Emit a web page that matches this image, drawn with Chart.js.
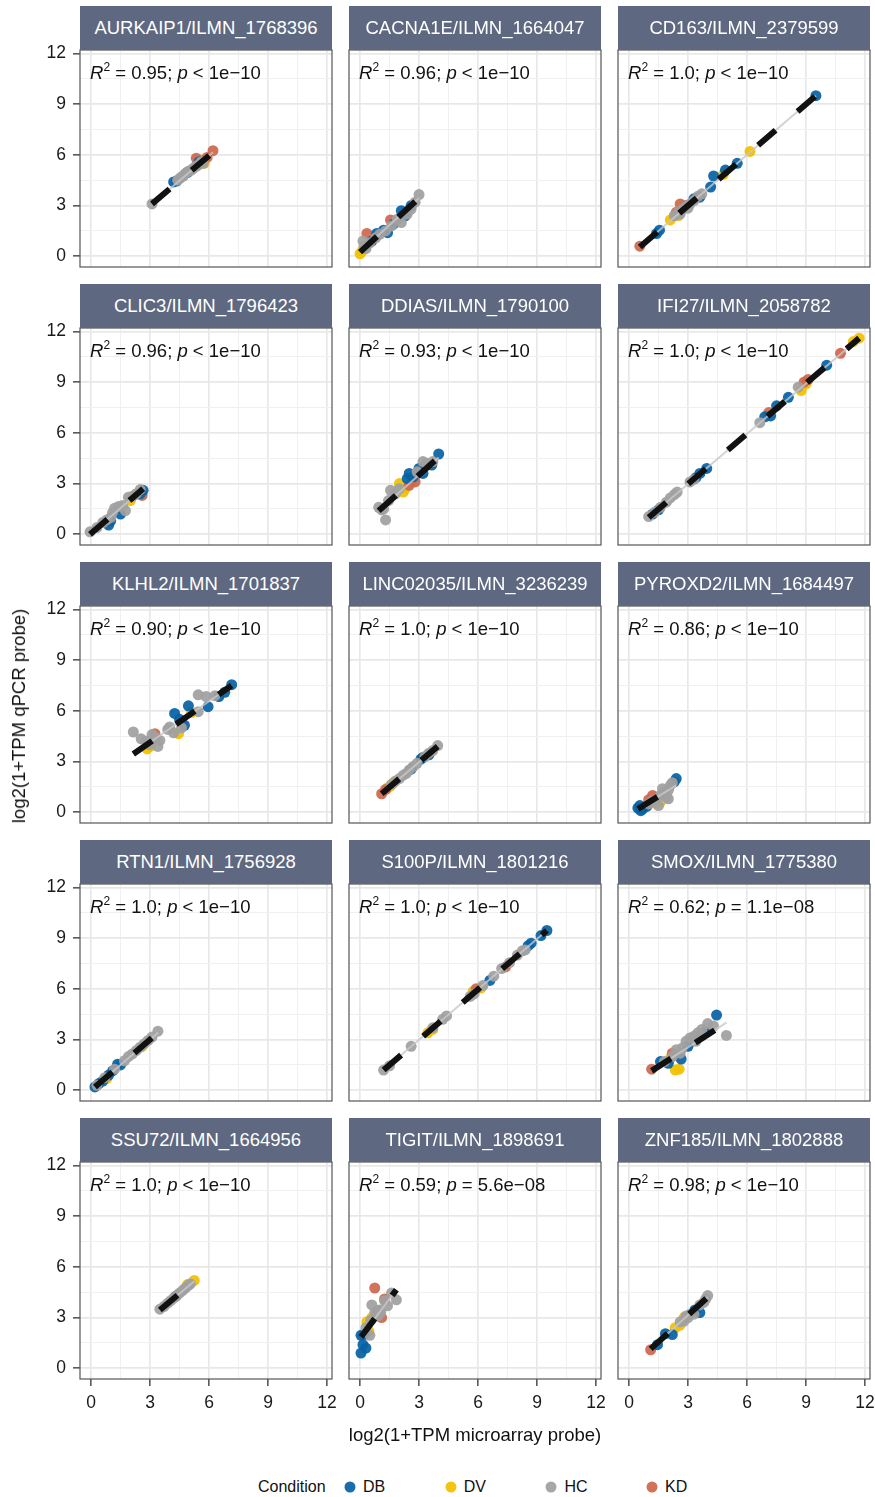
<!DOCTYPE html>
<html>
<head>
<meta charset="utf-8">
<script src="https://cdn.jsdelivr.net/npm/chart.js@4.4.1/dist/chart.umd.min.js"></script>
<style>
  html, body { margin: 0; padding: 0; background: #fff; }
  body { width: 875px; height: 1497px; position: relative; overflow: hidden;
         font-family: "Liberation Sans", Arial, Helvetica, sans-serif; color: #111; }
  canvas { position: absolute; }
  .strip { position: absolute; background: #5e6880; color: #fff; font-size: 18.5px;
           display: flex; align-items: center; justify-content: center; z-index: 2; }
  .ann { position: absolute; font-size: 18.5px; line-height: 16px; white-space: nowrap; z-index: 3; }
  .ann sup { font-size: 12px; vertical-align: 0; position: relative; top: -8px; }
  .title { position: absolute; font-size: 18.5px; white-space: nowrap; transform: translate(-50%, -50%); }
  .legend { position: absolute; font-size: 16px; white-space: nowrap; transform: translateY(-50%); }
  .dot { position: absolute; width: 11px; height: 11px; border-radius: 50%; transform: translate(-50%, -50%); }
</style>
</head>
<body>
<script>
// panel titles and fit statistics, in facet order
const panelTitles = ['AURKAIP1/ILMN_1768396', 'CACNA1E/ILMN_1664047', 'CD163/ILMN_2379599',
    'CLIC3/ILMN_1796423', 'DDIAS/ILMN_1790100', 'IFI27/ILMN_2058782',
    'KLHL2/ILMN_1701837', 'LINC02035/ILMN_3236239', 'PYROXD2/ILMN_1684497',
    'RTN1/ILMN_1756928', 'S100P/ILMN_1801216', 'SMOX/ILMN_1775380',
    'SSU72/ILMN_1664956', 'TIGIT/ILMN_1898691', 'ZNF185/ILMN_1802888'];
const r2Values = ['0.95', '0.96', '1.0', '0.96', '0.93', '1.0', '0.90', '1.0', '0.86', '1.0', '1.0', '0.62', '1.0', '0.59', '0.98'];
const pRelation = ['<', '<', '<', '<', '<', '<', '<', '<', '<', '<', '<', '=', '<', '=', '<'];
const pValues = ['1e−10', '1e−10', '1e−10', '1e−10', '1e−10', '1e−10', '1e−10', '1e−10', '1e−10', '1e−10', '1e−10', '1.1e−08', '1e−10', '5.6e−08', '1e−10'];

// regression line ends [x, y]
const fitFrom = [[3.1, 3.1], [0.0, 0.25], [0.55, 0.55], [-0.05, 0.0], [0.95, 1.4], [1.0, 1.0],
    [2.15, 3.45], [1.1, 1.1], [0.45, 0.2], [0.2, 0.2], [1.2, 1.2], [1.15, 1.15],
    [3.5, 3.45], [0.05, 1.85], [1.1, 1.15]];
const fitTo = [[6.2, 6.15], [3.0, 3.45], [9.5, 9.5], [2.65, 2.7], [4.0, 4.55], [11.7, 11.6],
    [7.15, 7.5], [3.95, 3.9], [2.4, 1.6], [3.4, 3.4], [9.5, 9.45], [4.95, 4.0],
    [5.25, 5.15], [1.85, 4.65], [4.0, 4.2]];

// points: [microarray, qPCR, condition]
const aurkaip1Pts = [[3.1,3.1,'HC'],[4.2,4.4,'DB'],[4.35,4.45,'DB'],[4.4,4.5,'HC'],[4.5,4.6,'HC'],[4.6,4.7,'HC'],
    [4.7,4.75,'HC'],[4.8,4.9,'HC'],[4.9,4.95,'DB'],[4.9,5.0,'HC'],[5.0,5.05,'HC'],[5.1,5.1,'HC'],[5.2,5.2,'HC'],
    [5.3,5.3,'HC'],[5.4,5.35,'HC'],[5.5,5.6,'DB'],[5.5,5.45,'HC'],[5.6,5.7,'DV'],[5.75,5.5,'DV'],[5.7,5.5,'HC'],
    [5.35,5.8,'KD'],[5.9,5.85,'KD'],[6.2,6.25,'KD'],[5.6,5.6,'HC']];
const cacna1ePts = [[0.0,0.15,'DV'],[0.1,0.3,'DV'],[0.3,0.55,'DV'],[0.15,0.9,'HC'],[0.2,0.6,'HC'],[0.3,0.45,'HC'],
    [0.5,0.8,'HC'],[0.6,0.9,'DB'],[0.8,1.1,'HC'],[0.85,1.35,'DB'],[1.0,1.3,'HC'],[0.35,1.35,'KD'],[1.2,1.55,'DB'],
    [1.4,1.4,'DB'],[1.3,1.5,'HC'],[1.6,1.8,'HC'],[1.7,1.9,'DB'],[1.55,2.15,'KD'],[1.9,2.2,'HC'],[2.1,2.0,'HC'],
    [2.1,2.7,'DB'],[2.3,2.4,'DB'],[2.4,2.5,'HC'],[2.6,3.0,'DB'],[2.6,2.8,'HC'],[2.8,3.2,'HC'],[3.0,3.65,'HC']];
const cd163Pts = [[0.55,0.6,'KD'],[1.4,1.35,'DB'],[1.55,1.55,'DB'],[2.1,2.15,'DV'],[2.3,2.4,'HC'],[2.4,2.6,'KD'],
    [2.5,2.6,'HC'],[2.5,2.4,'DV'],[2.6,2.5,'HC'],[2.6,3.1,'KD'],[2.7,2.75,'HC'],[2.9,3.0,'KD'],[2.9,2.95,'HC'],
    [3.0,2.85,'HC'],[3.1,3.1,'HC'],[3.3,3.4,'DB'],[3.3,3.3,'HC'],[3.5,3.55,'HC'],[3.6,3.5,'DB'],[3.7,3.7,'HC'],
    [4.15,4.1,'DB'],[4.3,4.75,'DB'],[4.8,4.85,'DV'],[4.9,5.1,'DB'],[5.5,5.5,'DB'],[6.15,6.2,'DV'],[9.5,9.5,'DB']];
const clic3Pts = [[-0.05,0.15,'HC'],[0.3,0.4,'HC'],[0.6,0.7,'HC'],[0.9,0.55,'DB'],[0.8,0.85,'HC'],[1.0,0.8,'DB'],
    [1.0,1.0,'HC'],[1.1,1.3,'HC'],[1.2,1.55,'HC'],[1.5,1.2,'DB'],[1.4,1.65,'HC'],[1.6,1.7,'HC'],[1.75,1.4,'HC'],
    [2.0,2.0,'DV'],[1.9,2.2,'HC'],[2.1,2.25,'HC'],[2.3,2.35,'DV'],[2.3,2.4,'HC'],[2.6,2.3,'KD'],[2.5,2.4,'DB'],
    [2.5,2.65,'HC'],[2.65,2.6,'DB']];
const ddiasPts = [[0.95,1.6,'HC'],[1.1,1.45,'HC'],[1.3,0.85,'HC'],[1.2,1.5,'HC'],[1.45,2.0,'HC'],[1.55,2.6,'HC'],
    [1.8,2.4,'HC'],[2.0,2.7,'HC'],[2.0,3.0,'DV'],[2.2,2.5,'DV'],[2.3,2.7,'DV'],[2.6,3.1,'DV'],[2.5,2.9,'KD'],
    [2.8,3.1,'KD'],[2.4,3.3,'DB'],[2.5,3.6,'DB'],[2.7,3.4,'DB'],[2.9,3.7,'HC'],[3.0,3.9,'DB'],[3.2,3.6,'DB'],
    [3.2,4.3,'HC'],[3.4,4.2,'HC'],[3.65,4.1,'DB'],[3.7,4.3,'HC'],[4.0,4.75,'DB']];
const ifi27Pts = [[1.0,1.05,'HC'],[1.2,1.2,'DB'],[1.3,1.3,'HC'],[1.5,1.45,'DB'],[1.6,1.6,'HC'],[1.9,1.9,'HC'],
    [2.1,2.15,'HC'],[2.3,2.35,'HC'],[2.45,2.5,'HC'],[3.1,3.1,'HC'],[3.3,3.25,'HC'],[3.4,3.35,'DB'],[3.6,3.6,'DB'],
    [3.95,3.9,'DB'],[6.65,6.6,'HC'],[6.9,6.95,'DB'],[7.1,7.2,'KD'],[7.2,7.0,'DB'],[7.5,7.6,'DB'],[8.1,8.1,'DB'],
    [8.6,8.7,'HC'],[8.75,8.5,'DV'],[8.9,9.0,'KD'],[9.0,8.9,'DV'],[9.1,9.15,'KD'],[10.05,10.0,'DB'],
    [10.75,10.7,'KD'],[11.4,11.4,'DV'],[11.7,11.6,'DV']];
const klhl2Pts = [[2.15,4.75,'HC'],[2.55,4.35,'HC'],[2.8,4.2,'HC'],[2.85,3.75,'DV'],[3.0,3.9,'DV'],[3.0,4.0,'HC'],
    [3.1,4.6,'HC'],[3.25,4.65,'KD'],[3.3,4.4,'HC'],[3.4,3.9,'HC'],[3.5,4.25,'HC'],[3.9,4.9,'HC'],[4.0,5.05,'HC'],
    [4.2,4.7,'HC'],[4.45,4.65,'DV'],[4.25,5.85,'DB'],[4.5,5.5,'DB'],[4.6,5.0,'HC'],[4.75,5.15,'DB'],[4.95,6.3,'DB'],
    [5.1,5.9,'DV'],[5.45,5.95,'HC'],[5.45,6.95,'HC'],[5.85,6.85,'HC'],[5.95,6.25,'DB'],[6.3,6.9,'HC'],
    [6.5,6.85,'DB'],[6.8,7.1,'DB'],[7.15,7.55,'DB']];
const linc02035Pts = [[1.1,1.1,'KD'],[1.3,1.35,'KD'],[1.4,1.45,'DV'],[1.55,1.55,'DV'],[1.6,1.65,'HC'],[1.7,1.75,'DV'],
    [1.8,1.85,'HC'],[2.0,2.0,'HC'],[2.2,2.2,'HC'],[2.35,2.3,'HC'],[2.5,2.5,'HC'],[2.6,2.55,'DB'],[2.7,2.7,'HC'],
    [2.9,2.9,'HC'],[3.1,3.15,'DB'],[3.2,3.25,'DB'],[3.3,3.3,'HC'],[3.5,3.4,'DB'],[3.5,3.5,'HC'],[3.7,3.65,'HC'],
    [3.95,3.95,'HC']];
const pyroxd2Pts = [[0.45,0.25,'DB'],[0.55,0.4,'DB'],[0.6,0.1,'DB'],[0.7,0.2,'DB'],[0.9,0.35,'DB'],[1.0,0.5,'HC'],
    [1.0,0.75,'KD'],[1.2,1.0,'KD'],[1.2,0.7,'HC'],[1.3,0.55,'DV'],[1.5,0.4,'HC'],[1.6,0.6,'DV'],[1.6,1.0,'HC'],
    [1.7,1.4,'HC'],[1.8,1.2,'HC'],[1.9,0.9,'HC'],[2.0,0.8,'HC'],[2.0,1.3,'HC'],[2.1,1.6,'HC'],[2.2,1.75,'HC'],
    [2.3,1.8,'DB'],[2.4,2.0,'DB']];
const rtn1Pts = [[0.2,0.2,'DB'],[0.3,0.3,'HC'],[0.4,0.4,'DB'],[0.6,0.55,'DB'],[0.7,0.75,'HC'],[0.8,0.7,'DV'],
    [0.9,0.9,'DB'],[1.1,1.15,'DB'],[1.2,1.25,'HC'],[1.35,1.55,'DB'],[1.5,1.5,'DB'],[1.7,1.75,'HC'],[1.9,2.0,'HC'],
    [2.1,2.15,'HC'],[2.3,2.35,'HC'],[2.5,2.55,'HC'],[2.6,2.6,'DV'],[2.7,2.75,'HC'],[2.9,2.95,'HC'],[3.1,3.15,'HC'],
    [3.4,3.5,'HC']];
const s100pPts = [[1.2,1.2,'HC'],[1.5,1.45,'HC'],[2.6,2.6,'HC'],[3.45,3.4,'DV'],[3.7,3.6,'DV'],[3.7,3.7,'HC'],
    [4.2,4.2,'HC'],[4.4,4.4,'HC'],[5.6,5.55,'HC'],[5.75,5.85,'DV'],[5.8,5.7,'HC'],[5.9,6.0,'KD'],[6.15,6.05,'DV'],
    [6.25,6.2,'HC'],[6.6,6.5,'DB'],[6.8,6.75,'HC'],[7.2,7.2,'HC'],[7.4,7.3,'KD'],[7.6,7.55,'HC'],[8.0,8.0,'HC'],
    [8.25,8.25,'HC'],[8.4,8.3,'HC'],[8.55,8.55,'DB'],[8.7,8.7,'DB'],[9.2,9.15,'DB'],[9.5,9.45,'DB']];
const smoxPts = [[1.15,1.25,'KD'],[1.6,1.7,'DB'],[1.8,1.7,'HC'],[2.0,1.6,'DB'],[2.1,1.9,'DV'],[2.2,2.0,'HC'],
    [2.2,2.2,'KD'],[2.35,1.2,'DV'],[2.55,1.25,'DV'],[2.4,2.4,'HC'],[2.6,2.2,'HC'],[2.65,1.85,'DB'],[2.7,2.5,'HC'],
    [2.9,2.9,'HC'],[3.0,2.6,'DB'],[3.1,3.1,'HC'],[3.3,3.2,'HC'],[3.4,2.9,'HC'],[3.5,3.4,'HC'],[3.6,3.2,'DB'],
    [3.7,3.6,'HC'],[3.9,3.45,'DB'],[4.0,3.95,'HC'],[4.3,3.8,'HC'],[4.45,4.45,'DB'],[4.95,3.25,'HC']];
const ssu72Pts = [[3.5,3.5,'HC'],[3.7,3.65,'HC'],[3.9,3.85,'HC'],[4.05,4.0,'HC'],[4.2,4.15,'HC'],[4.3,4.25,'DB'],
    [4.35,4.3,'HC'],[4.5,4.45,'HC'],[4.65,4.6,'HC'],[4.8,4.75,'HC'],[4.9,4.95,'DV'],[4.95,4.9,'HC'],[5.05,5.0,'HC'],
    [5.25,5.2,'DV']];
const tigitPts = [[0.05,0.9,'DB'],[0.15,1.4,'DB'],[0.3,1.2,'DB'],[0.05,1.95,'DB'],[0.2,2.0,'DB'],[0.3,2.4,'HC'],
    [0.5,1.95,'HC'],[0.45,2.2,'DV'],[0.35,2.75,'DV'],[0.55,2.85,'HC'],[0.6,3.0,'DV'],[0.6,3.75,'HC'],[0.75,3.3,'HC'],
    [0.75,4.75,'KD'],[0.9,3.1,'HC'],[0.9,3.4,'KD'],[1.0,3.45,'HC'],[1.05,3.3,'HC'],[1.1,3.0,'KD'],[1.25,4.1,'KD'],
    [1.25,4.0,'HC'],[1.4,3.7,'HC'],[1.6,4.45,'HC'],[1.85,4.05,'HC']];
const znf185Pts = [[1.1,1.1,'KD'],[1.45,1.4,'DB'],[1.85,2.05,'DB'],[2.2,2.0,'DB'],[2.35,2.4,'DV'],[2.6,2.55,'DV'],
    [2.6,2.75,'HC'],[2.8,3.0,'DV'],[2.8,2.8,'HC'],[2.9,3.1,'HC'],[3.0,3.0,'HC'],[3.1,3.2,'HC'],[3.3,3.2,'HC'],
    [3.35,3.45,'DB'],[3.6,3.3,'DB'],[3.6,3.75,'HC'],[3.8,3.9,'HC'],[3.9,4.1,'HC'],[4.0,4.3,'HC']];

const panelPoints = [aurkaip1Pts, cacna1ePts, cd163Pts, clic3Pts, ddiasPts, ifi27Pts, klhl2Pts, linc02035Pts,
    pyroxd2Pts, rtn1Pts, s100pPts, smoxPts, ssu72Pts, tigitPts, znf185Pts];

const conditions = ['DB', 'DV', 'HC', 'KD'];
const axisBreaks = [0, 1.5, 3, 4.5, 6, 7.5, 9, 10.5, 12];

// styling / layout
const COLORS = { DB: 'rgba(8,98,164,0.93)', DV: 'rgba(242,193,0,0.93)', HC: 'rgba(160,160,160,0.93)', KD: 'rgba(204,104,78,0.93)' };
const DRAW_ORDER = { HC: 2, DB: 3, KD: 4, DV: 5 };
const X_MIN = -0.56, X_MAX = 12.25, Y_MIN = -0.63, Y_MAX = 12.2;
const COL_LEFT = [80, 349, 618];
const FIRST_TOP = 50, ROW_STEP = 278, PANEL_W = 252, PANEL_H = 217, STRIP_H = 44;

Chart.defaults.font.family = '"Liberation Sans", Arial, Helvetica, sans-serif';

const panelBorder = {
    id: 'panelBorder',
    afterDraw(chart) {
        const { ctx, chartArea: a } = chart;
        ctx.save();
        ctx.strokeStyle = '#555';
        ctx.lineWidth = 1.2;
        ctx.strokeRect(a.left, a.top, a.right - a.left, a.bottom - a.top);
        ctx.restore();
    }
};

function isMajor(v) { return v % 3 === 0; }

function axis(isX, showLabels, size) {
    return {
        type: 'linear',
        bounds: 'data',
        min: isX ? X_MIN : Y_MIN,
        max: isX ? X_MAX : Y_MAX,
        border: { display: false },
        grid: {
            color: c => isMajor(c.tick.value) ? '#e8e8e8' : '#f0f0f0',
            lineWidth: c => isMajor(c.tick.value) ? 1.7 : 1.0,
            drawTicks: showLabels,
            tickLength: 7,
            tickWidth: 1.3,
            tickColor: c => isMajor(c.tick.value) ? '#333' : 'rgba(0,0,0,0)'
        },
        ticks: {
            display: showLabels,
            autoSkip: false,
            maxRotation: 0,
            padding: isX ? 7 : 7,
            color: '#1a1a1a',
            font: { size: 17.5 },
            callback: v => isMajor(v) ? String(v) : ''
        },
        afterBuildTicks: s => { s.ticks = axisBreaks.map(v => ({ value: v })); },
        afterFit: s => {
            if (isX) s.height = size; else s.width = size;
            s.paddingLeft = s.paddingRight = s.paddingTop = s.paddingBottom = 0;
        }
    };
}

function addDiv(cls, html, style) {
    const d = document.createElement('div');
    d.className = cls;
    d.innerHTML = html;
    Object.assign(d.style, style);
    document.body.appendChild(d);
    return d;
}

panelTitles.forEach((title, i) => {
    const r = Math.floor(i / 3), c = i % 3;
    const left = COL_LEFT[c], top = FIRST_TOP + r * ROW_STEP;
    const showY = c === 0, showX = r === 4;
    const padL = showY ? 62 : 6, padR = 16, padT = 12, padB = showX ? 44 : 6;

    const canvas = document.createElement('canvas');
    canvas.width = PANEL_W + padL + padR;
    canvas.height = PANEL_H + padT + padB;
    canvas.style.left = (left - padL) + 'px';
    canvas.style.top = (top - padT) + 'px';
    document.body.appendChild(canvas);

    addDiv('strip', title, { left: left + 'px', top: (top - STRIP_H) + 'px', width: PANEL_W + 'px', height: STRIP_H + 'px' });
    addDiv('ann', '<i>R</i><sup>2</sup> = ' + r2Values[i] + '; <i>p</i> ' + pRelation[i] + ' ' + pValues[i],
        { left: (left + 10) + 'px', top: (top + 15) + 'px' });

    const pts = panelPoints[i];
    const fitData = [{ x: fitFrom[i][0], y: fitFrom[i][1] }, { x: fitTo[i][0], y: fitTo[i][1] }];
    const datasets = [
        { label: 'fit', data: fitData, showLine: true, borderColor: '#111', borderWidth: 6,
          borderDash: [23, 29], borderCapStyle: 'butt', pointRadius: 0, order: 0 },
        { label: 'band', data: fitData, showLine: true, borderColor: 'rgba(200,200,200,0.8)', borderWidth: 2,
          pointRadius: 0, order: 1 }
    ];
    conditions.forEach(cond => {
        datasets.push({
            label: cond,
            data: pts.filter(p => p[2] === cond).map(p => ({ x: p[0], y: p[1] })),
            backgroundColor: COLORS[cond],
            borderWidth: 0,
            pointRadius: 5.5,
            order: DRAW_ORDER[cond]
        });
    });

    new Chart(canvas.getContext('2d'), {
        type: 'scatter',
        data: { datasets },
        options: {
            responsive: false,
            animation: false,
            devicePixelRatio: 1,
            events: [],
            layout: { autoPadding: false,
                      padding: { left: showY ? 0 : padL, right: padR, top: padT, bottom: showX ? 0 : padB } },
            plugins: { legend: { display: false }, tooltip: { enabled: false } },
            scales: {
                x: axis(true, showX, showX ? padB : 0),
                y: axis(false, showY, showY ? padL : 0)
            }
        },
        plugins: [panelBorder]
    });
});

// axis titles
addDiv('title', 'log2(1+TPM microarray probe)', { left: '475px', top: '1435px' });
addDiv('title', 'log2(1+TPM qPCR probe)', { left: '19px', top: '716px', transform: 'translate(-50%, -50%) rotate(-90deg)' });

// legend
addDiv('legend', 'Condition', { left: '258px', top: '1487px' });
conditions.forEach((cond, k) => {
    const x = 350 + k * 100.7;
    addDiv('dot', '', { left: x + 'px', top: '1487px', background: COLORS[cond] });
    addDiv('legend', cond, { left: (x + 13) + 'px', top: '1487px' });
});
</script>
</body>
</html>
